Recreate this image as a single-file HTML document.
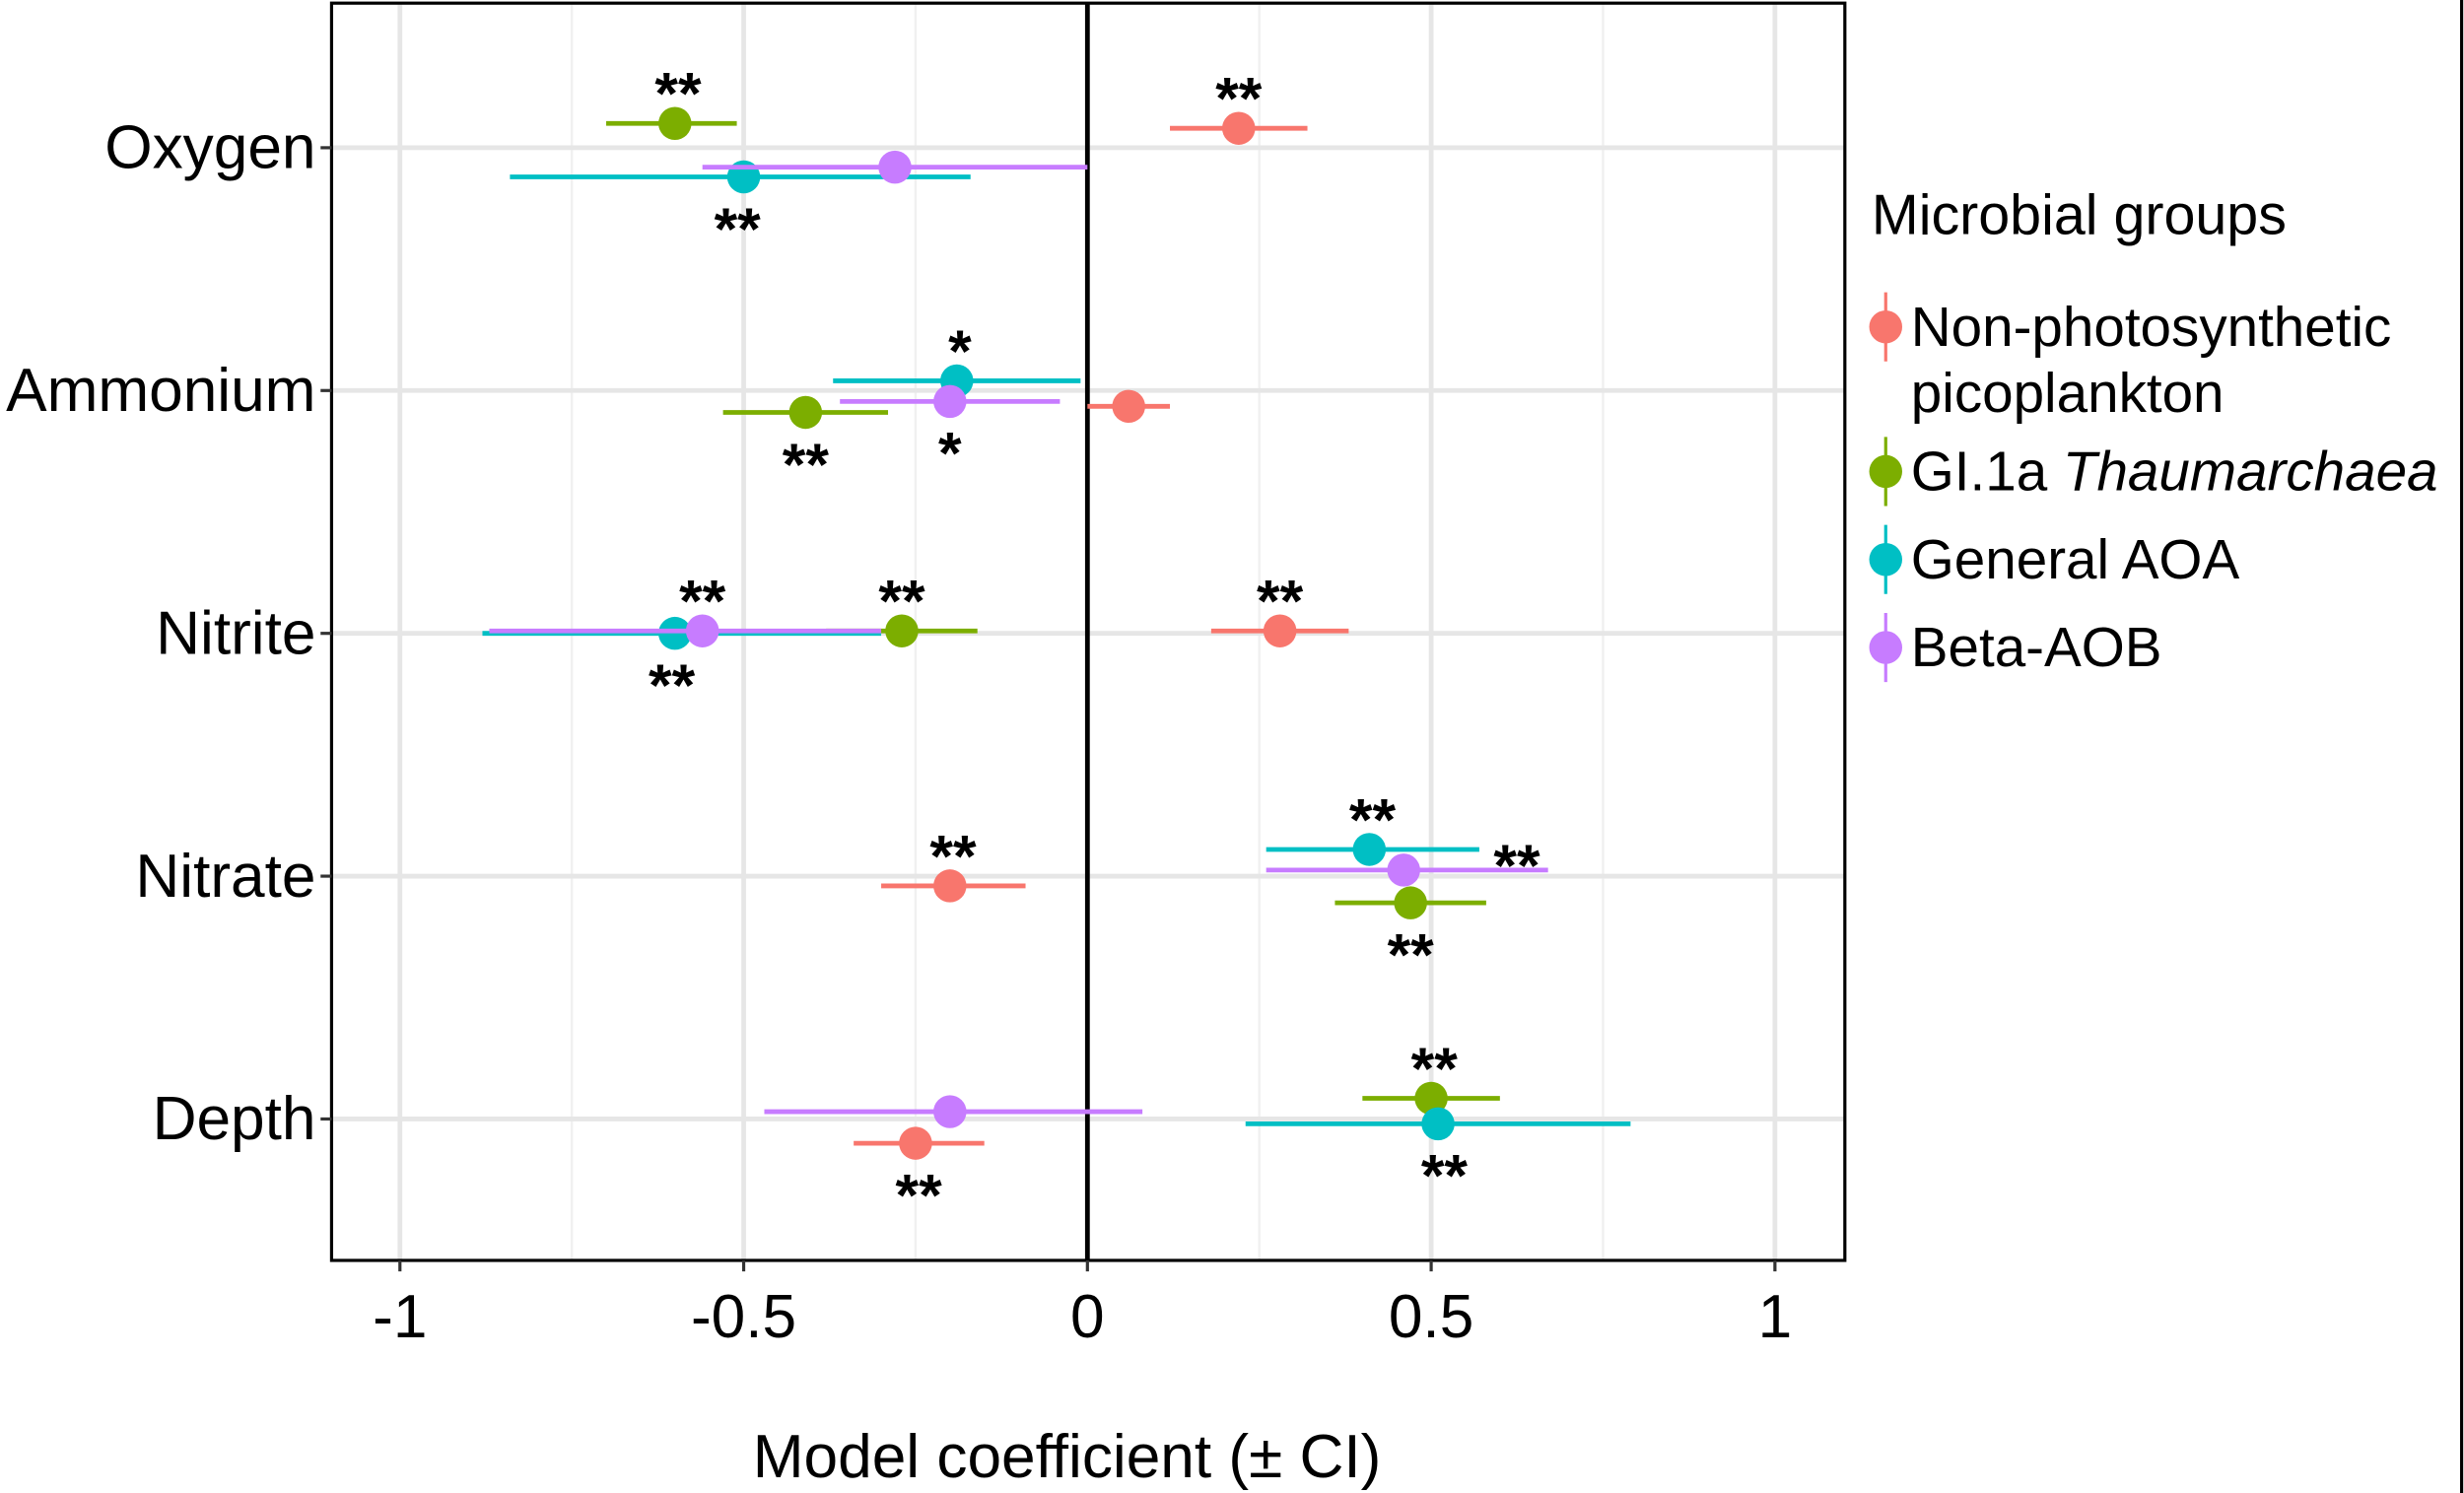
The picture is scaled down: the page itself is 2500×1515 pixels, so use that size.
<!DOCTYPE html>
<html><head><meta charset="utf-8"><style>
html,body{margin:0;padding:0;background:#fff;}
svg{display:block;}
text{font-family:"Liberation Sans",Arial,sans-serif;}
</style></head><body>
<svg id="chart" width="2500" height="1515" viewBox="0 0 1568 950" preserveAspectRatio="none" xmlns="http://www.w3.org/2000/svg">
<rect x="0" y="0" width="1568" height="950" fill="#fff"/>
<line x1="1566.5" y1="0" x2="1566.5" y2="950" stroke="#000" stroke-width="2"/>
<g id="grid"></g>
<g id="marks"></g>
<g id="axes"></g>
<g id="legend">
<text x="1191" y="149" font-size="36">Microbial groups</text>
</g>
<text x="679" y="940" font-size="39" text-anchor="middle">Model coefficient (± CI)</text>
</svg>
<script>
const categories = ["Oxygen","Ammonium","Nitrite","Nitrate","Depth"];
const seriesNames = ["Non-photosynthetic picoplankton","GI.1a Thaumarchaea","General AOA","Beta-AOB"];
const colors = ["#F8766D","#7CAE00","#00BFC4","#C77CFF"];
const est = [[0.22,-0.60,-0.50,-0.28],[0.06,-0.41,-0.19,-0.20],[0.28,-0.27,-0.60,-0.56],[-0.20,0.47,0.41,0.46],[-0.25,0.50,0.51,-0.20]];
const lo  = [[0.12,-0.70,-0.84,-0.56],[0.00,-0.53,-0.37,-0.36],[0.18,-0.38,-0.88,-0.87],[-0.30,0.36,0.26,0.26],[-0.34,0.40,0.23,-0.47]];
const hi  = [[0.32,-0.51,-0.17,0.00],[0.12,-0.29,-0.01,-0.04],[0.38,-0.16,-0.30,-0.30],[-0.09,0.58,0.57,0.67],[-0.15,0.60,0.79,0.08]];
const dodge = [[-0.08,-0.10,0.12,0.08],[0.065,0.09,-0.04,0.045],[-0.01,-0.01,0.0,-0.01],[0.04,0.11,-0.11,-0.025],[0.10,-0.085,0.02,-0.03]];
const sig = [[0,0,"**",-1,0],[0,1,"**",-1,2],[0,2,"**",1,-4],
 [1,2,"*",-1,2],[1,1,"**",1,0],[1,3,"*",1,0],
 [2,0,"**",-1,0],[2,1,"**",-1,0],[2,3,"**",-1,0],[2,2,"**",1,-2],
 [3,0,"**",-1,2],[3,2,"**",-1,2],[3,3,"**",0,72],[3,1,"**",1,0],
 [4,1,"**",-1,2],[4,2,"**",1,4],[4,0,"**",1,2]];
const xTicks = [-1,-0.5,0,0.5,1];
const xTickLabels = ["-1","-0.5","0","0.5","1"];
const xMinor = [-0.75,-0.25,0.25,0.75];

const NS="http://www.w3.org/2000/svg";
const P={l:211,r:1174,t:2,b:802};
const xs=v=>692+v*437.5;
const ys=c=>94+c*154.5;
function el(tag,attrs,parent,txt){const e=document.createElementNS(NS,tag);for(const k in attrs)e.setAttribute(k,attrs[k]);if(txt!==undefined)e.textContent=txt;parent.appendChild(e);return e;}
const grid=document.getElementById('grid'),marks=document.getElementById('marks'),axes=document.getElementById('axes'),legend=document.getElementById('legend');
xMinor.forEach(v=>{const g=el('line',{x1:xs(v),x2:xs(v),y1:P.t,y2:P.b,stroke:'#f0f0f0','stroke-width':1.5},grid);

});
xTicks.forEach(v=>{const g=el('line',{x1:xs(v),x2:xs(v),y1:P.t,y2:P.b,stroke:'#e6e6e6','stroke-width':3},grid);

});
categories.forEach((c,i)=>{const g=el('line',{x1:P.l,x2:P.r,y1:ys(i),y2:ys(i),stroke:'#e6e6e6','stroke-width':3},grid);

});
const z=el('line',{x1:xs(0),x2:xs(0),y1:P.t,y2:P.b,stroke:'#000','stroke-width':3},grid);


categories.forEach((c,i)=>{seriesNames.forEach((s,j)=>{
 const y=ys(i+dodge[i][j]);
 const ln=el('line',{x1:xs(lo[i][j]),x2:xs(hi[i][j]),y1:y,y2:y,stroke:colors[j],'stroke-width':3},marks);
 
 
 const pt=el('circle',{cx:xs(est[i][j]),cy:y,r:10.5,fill:colors[j]},marks);
 
 
});});
sig.forEach(s=>{const [i,j,t,side,dx]=s;const y=ys(i+dodge[i][j]);
 const yy=side<0?y-6:(side>0?y+46:y+10);
 const tx=el('text',{x:xs(est[i][j])+dx,y:yy,'font-size':38,'font-weight':'bold','text-anchor':'middle'},marks,t);
 
 });
const fr=el('rect',{x:P.l,y:P.t,width:P.r-P.l,height:P.b-P.t,fill:'none',stroke:'#000','stroke-width':2},axes);


categories.forEach((c,i)=>{const tk=el('line',{x1:P.l-7,x2:P.l,y1:ys(i),y2:ys(i),stroke:'#333','stroke-width':2},axes);


const t=el('text',{x:P.l-10,y:ys(i)+13,'font-size':39,'text-anchor':'end'},axes,c);

});
xTicks.forEach((v,k)=>{const tk=el('line',{x1:xs(v),x2:xs(v),y1:P.b,y2:P.b+7,stroke:'#333','stroke-width':2},axes);


const t=el('text',{x:xs(v),y:851,'font-size':39,'text-anchor':'middle'},axes,xTickLabels[k]);

});
const legY=[208,300,356,412];
const legLines=[["Non-photosynthetic","picoplankton"],["GI.1a ",""],["General AOA"],["Beta-AOB"]];
seriesNames.forEach((s,j)=>{const y=legY[j];
 const l=el('line',{x1:1200,x2:1200,y1:y-22,y2:y+22,stroke:colors[j],'stroke-width':2},legend);
 
 
 const c=el('circle',{cx:1200,cy:y,r:10.5,fill:colors[j]},legend);
 
 
 const t=el('text',{x:1216,y:y+12,'font-size':35.5},legend);
 
 
 if(j===1){el('tspan',{},t,"GI.1a ");el('tspan',{'font-style':'italic'},t,"Thaumarchaea");}
 else t.textContent=legLines[j][0];
 if(j===0){const t2=el('text',{x:1216,y:y+54,'font-size':35.5},legend,legLines[0][1]);
 
 }
});
</script>
</body></html>
